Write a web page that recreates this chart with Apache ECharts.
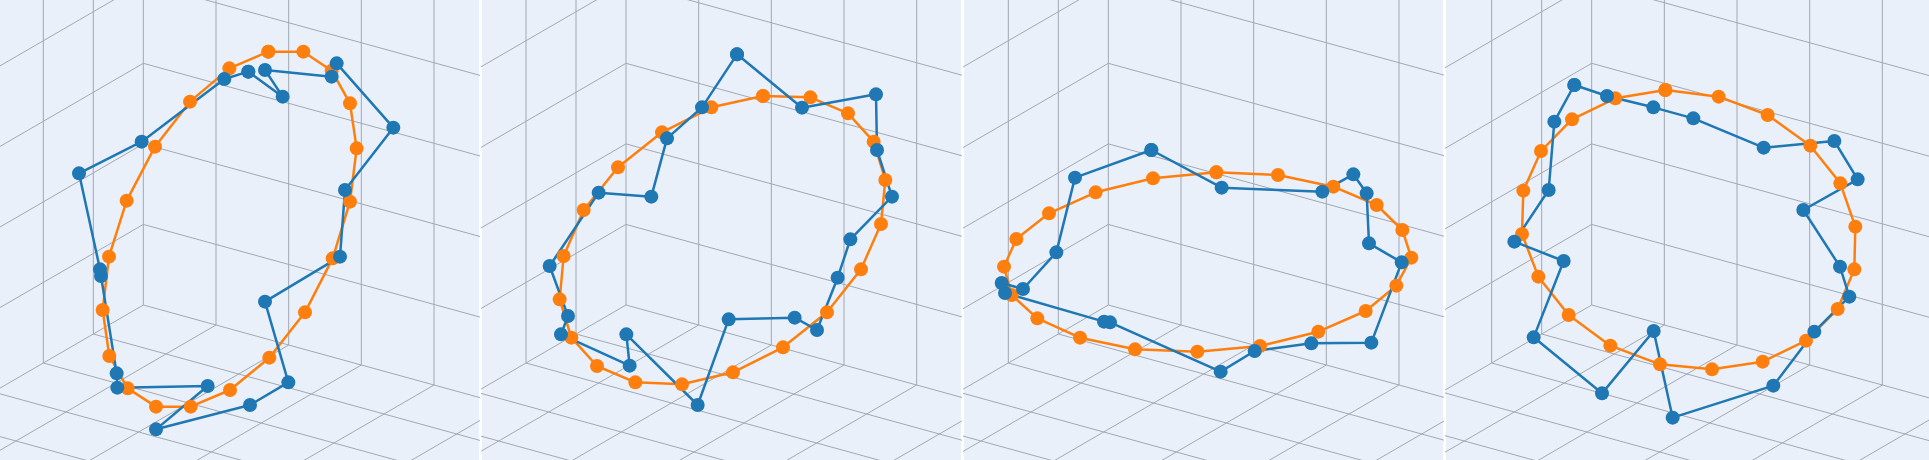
<!DOCTYPE html>
<html>
<head>
<meta charset="utf-8">
<script src="https://cdn.jsdelivr.net/npm/echarts@6/dist/echarts.min.js"></script>
<style>
html, body { margin: 0; padding: 0; background: #fff; }
#main { width: 1929px; height: 460px; }
</style>
</head>
<body>
<div id="main"></div>
<script>
// positions, in 1/3 px units from each panel's top-left corner
var smooth1 = [[805,155],[910,155],[995,212],[1050,310],[1070,445],[1050,605],[998,775],[915,937],[808,1073],[690,1170],
               [572,1220],[468,1220],[383,1165],[328,1068],[308,930],[327,770],[380,602],[465,440],[570,305],[688,205]];
var noisy1 = [[745,215],[848,290],[795,210],[995,230],[1010,190],[1180,383],[1035,570],[1020,770],[795,905],[865,1147],
              [750,1215],[468,1288],[623,1158],[352,1163],[350,1120],[303,828],[300,808],[237,520],[425,425],[673,237]];

var smooth2 = [[843,288],[985,292],[1098,340],[1175,425],[1210,540],[1197,672],[1137,808],[1035,937],[903,1042],[753,1117],
               [600,1153],[460,1147],[345,1098],[268,1013],[233,898],[245,768],[305,630],[408,502],[540,397],[688,322]];
var noisy2 = [[765,163],[960,323],[1182,283],[1185,450],[1230,590],[1105,718],[1067,833],[1005,990],[938,953],[740,958],
              [647,1215],[433,1003],[443,1097],[237,1003],[258,948],[203,798],[350,578],[508,590],[555,415],[660,322]];

var smooth3 = [[757,517],[942,525],[1108,560],[1238,615],[1315,690],[1342,773],[1297,857],[1205,933],[1063,995],[888,1038],
               [700,1055],[513,1048],[348,1013],[220,955],[143,885],[120,800],[157,717],[255,640],[395,577],[567,535]];
var noisy3 = [[562,450],[773,563],[1075,575],[1168,523],[1208,580],[1215,730],[1313,787],[1222,1028],[1042,1030],[872,1053],
              [770,1115],[438,967],[420,965],[123,879],[113,849],[177,867],[277,757],[333,533]];

var smooth4 = [[658,270],[818,290],[965,345],[1093,437],[1183,550],[1228,680],[1225,808],[1175,927],[1080,1022],[950,1085],
               [798,1108],[642,1093],[493,1037],[368,945],[277,830],[228,702],[232,572],[285,453],[378,358],[508,295]];
var noisy4 = [[385,255],[483,288],[622,322],[742,355],[953,443],[1165,423],[1235,538],[1072,630],[1182,800],[1210,890],
              [1105,995],[982,1157],[680,1253],[623,993],[468,1180],[263,1012],[353,783],[205,725],[308,570],[325,365]];

var panels = [[smooth1, noisy1], [smooth2, noisy2], [smooth3, noisy3], [smooth4, noisy4]];
var panelLeft = [0, 482, 964, 1446],
    panelWidth = [479, 479, 479, 483],
    cornerX = [430, 432, 433, 437];

var myChart = echarts.init(document.getElementById('main'));

// background box of the 3d scene: back walls and floor
function boxSegments(cx) {
    var R = [218, 60], L = [-150, 87], U = [0, -241.7], C = [cx, 915];
    function p(x, y, z) {
        return [C[0] + x * R[0] + y * L[0] + z * U[0], C[1] + x * R[1] + y * L[1] + z * U[1]];
    }
    var segs = [], i;
    for (i = 0; i <= 7; i++) segs.push([p(i, 0, 0), p(i, 0, 6)]);
    for (i = 0; i <= 6; i++) segs.push([p(0, 0, i), p(9, 0, i)]);
    for (i = 1; i <= 5; i++) segs.push([p(0, i, 0), p(0, i, 6)]);
    for (i = 1; i <= 6; i++) segs.push([p(0, 0, i), p(0, 7, i)]);
    for (i = 0; i <= 8; i++) segs.push([p(i, 0, 0), p(i, 9, 0)]);
    for (i = 1; i <= 8; i++) segs.push([p(0, i, 0), p(12, i, 0)]);
    return segs;
}

var grids = [], xAxes = [], yAxes = [], series = [];
panels.forEach(function (pair, k) {
    grids.push({
        left: panelLeft[k], top: 0, width: panelWidth[k], height: 460,
        show: true, backgroundColor: '#e9f0fa', borderWidth: 0
    });
    xAxes.push({ type: 'value', gridIndex: k, min: 0, max: panelWidth[k] * 3, show: false });
    yAxes.push({ type: 'value', gridIndex: k, min: 0, max: 1380, inverse: true, show: false });

    boxSegments(cornerX[k]).forEach(function (seg) {
        series.push({
            type: 'line', xAxisIndex: k, yAxisIndex: k, data: seg,
            showSymbol: false, silent: true,
            lineStyle: { color: '#a3a8b0', width: 1 }
        });
    });

    [['#ff7f0e', pair[0]], ['#1f77b4', pair[1]]].forEach(function (s) {
        series.push({
            type: 'line', xAxisIndex: k, yAxisIndex: k,
            data: s[1].concat([s[1][0]]),
            symbol: 'circle', symbolSize: 14, showAllSymbol: true,
            lineStyle: { color: s[0], width: 2.5 },
            itemStyle: { color: s[0] }
        });
    });
});

myChart.setOption({
    animation: false,
    grid: grids,
    xAxis: xAxes,
    yAxis: yAxes,
    series: series
});
</script>
</body>
</html>
